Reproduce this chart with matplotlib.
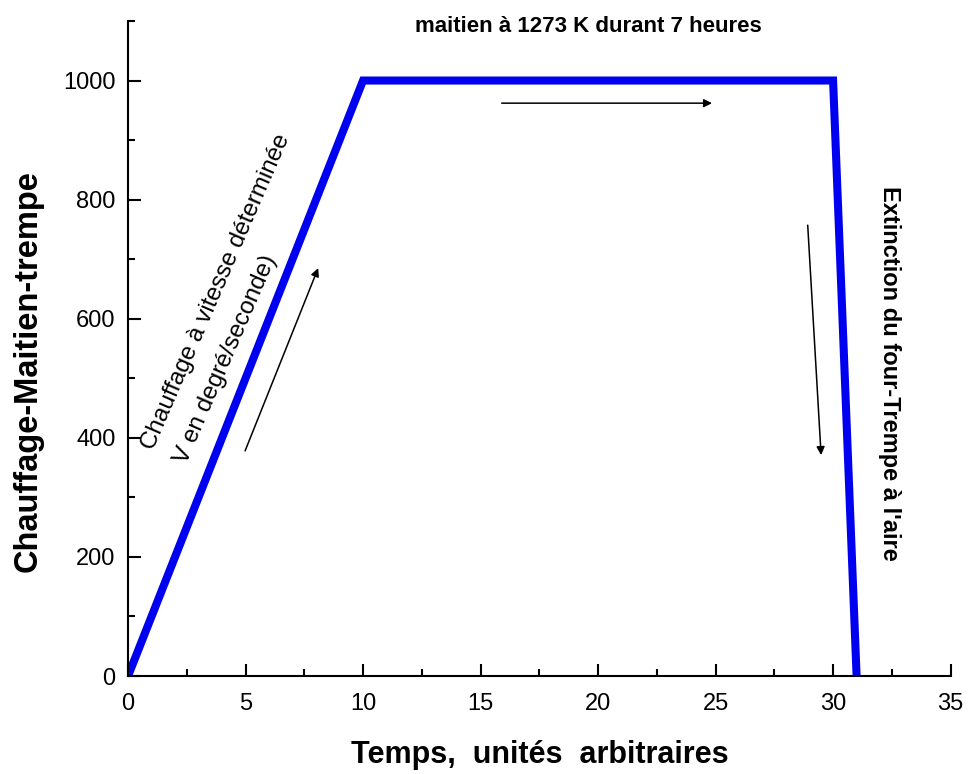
import numpy as np
import matplotlib
matplotlib.use("Agg")
import matplotlib.pyplot as plt
from matplotlib.ticker import MultipleLocator

plt.rcParams['font.family'] = ['Liberation Sans', 'DejaVu Sans']

# profil thermique
temps = [0, 10, 30, 31]
temperature = [0, 1000, 1000, 0]

# fleches (debut, fin) en coordonnees donnees
fleche_montee = ((4.98, 378), (8.09, 685))
fleche_palier = ((15.9, 962), (24.85, 962))
fleche_trempe = ((28.92, 757), (29.49, 371))

fig = plt.figure(figsize=(9.7, 7.74), dpi=100)
ax = fig.add_axes([0.132, 0.1266, 0.848, 0.8463])

ax.plot(temps, temperature, color='#0000f0', lw=5.8, solid_joinstyle='miter')

ax.set_xlim(0, 35)
ax.set_ylim(0, 1100)
ax.xaxis.set_major_locator(MultipleLocator(5))
ax.xaxis.set_minor_locator(MultipleLocator(2.5))
ax.yaxis.set_major_locator(MultipleLocator(200))
ax.yaxis.set_minor_locator(MultipleLocator(100))
ax.set_yticks([0, 200, 400, 600, 800, 1000])

for s in ['top', 'right']:
    ax.spines[s].set_visible(False)
for s in ['left', 'bottom']:
    ax.spines[s].set_linewidth(1.5)

ax.tick_params(which='major', direction='in', length=9, width=1.5, labelsize=17)
ax.tick_params(which='minor', direction='in', length=5, width=1.5)
ax.tick_params(axis='y', pad=9)
ax.tick_params(axis='x', pad=12)

ax.set_xlabel('Temps,  unités  arbitraires', fontsize=22, fontweight='bold', labelpad=18)
ax.set_ylabel('Chauffage-Maitien-trempe', fontsize=23.5, fontweight='bold')
ax.yaxis.set_label_coords(-0.1025, 0.466)

ax.text(19.6, 1090, 'maitien à 1273 K durant 7 heures', fontsize=16, fontweight='bold',
        ha='center', va='center', clip_on=False)

ax.text(1.1, 378, 'Chauffage à vitesse déterminée', fontsize=17.5, rotation=66.5,
        rotation_mode='anchor', ha='left', va='baseline')
ax.text(2.5, 355, 'V en degré/seconde)', fontsize=17.5, rotation=66.5,
        rotation_mode='anchor', ha='left', va='baseline')

ax.text(32.4, 508, "Extinction du four-Trempe à l'aire", fontsize=17, fontweight='bold',
        rotation=-90, ha='center', va='center')

for (x0, y0), (x1, y1) in [fleche_montee, fleche_palier, fleche_trempe]:
    ax.annotate('', xy=(x1, y1), xytext=(x0, y0),
                arrowprops=dict(arrowstyle='-|>', color='black', lw=1.1,
                                mutation_scale=12, shrinkA=0, shrinkB=0))

fig.savefig('out.png', dpi=100)
